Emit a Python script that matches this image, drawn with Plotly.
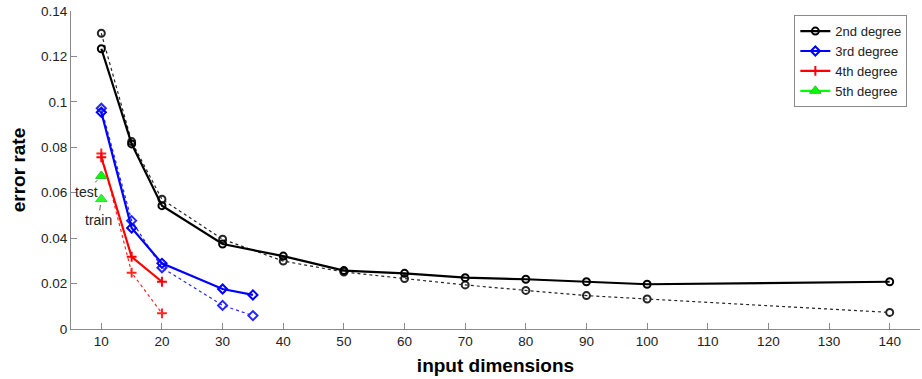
import plotly.graph_objects as go

x2 = [10, 15, 20, 30, 40, 50, 60, 70, 80, 90, 100, 140]
test2 = [0.1234, 0.0815, 0.0543, 0.0374, 0.0321, 0.0257, 0.0245, 0.0226, 0.0219, 0.0208, 0.0197, 0.0208]
train2 = [0.1302, 0.0825, 0.0571, 0.0395, 0.0299, 0.0251, 0.0222, 0.0194, 0.0170, 0.0147, 0.0132, 0.0073]

x3 = [10, 15, 20, 30, 35]
test3 = [0.0954, 0.0445, 0.0289, 0.0176, 0.0150]
train3 = [0.0972, 0.0477, 0.0270, 0.0104, 0.0059]

x4 = [10, 15, 20]
test4 = [0.0756, 0.0318, 0.0208]
train4 = [0.0773, 0.0248, 0.0069]

x5 = [10]
test5 = [0.0674]
train5 = [0.0572]

names = ["2nd degree", "3rd degree", "4th degree", "5th degree"]
colors = ["black", "#0000ff", "#ff0000", "#00ff00"]
symbols = ["circle-open", "diamond-open", "cross-thin-open", "triangle-up"]
sizes = [7, 7, 7, 10]

fig = go.Figure()
series = [(x2, test2, train2), (x3, test3, train3), (x4, test4, train4), (x5, test5, train5)]
for i, (xs, te, tr) in enumerate(series):
    c = colors[i]
    mk = dict(symbol=symbols[i], size=sizes[i], color=c,
              line=dict(color=c if i != 3 else "#33bb33", width=2 if i < 3 else 1))
    fig.add_trace(go.Scatter(x=xs, y=tr, mode="lines+markers", showlegend=False,
                             line=dict(color=c, width=1.2, dash="dot"), marker=mk,
                             opacity=0.85))
    fig.add_trace(go.Scatter(x=xs, y=te, mode="lines+markers", name=names[i],
                             line=dict(color=c, width=2.2), marker=mk))

fig.add_annotation(x=10, y=test5[0], text="test", showarrow=True, arrowhead=0,
                   arrowwidth=0.8, arrowcolor="#333", ax=-15, ay=16, standoff=6,
                   font=dict(size=14, color="#222"))
fig.add_annotation(x=10, y=train5[0], text="train", showarrow=True, arrowhead=0,
                   arrowwidth=0.8, arrowcolor="#333", ax=-3, ay=21, standoff=6,
                   font=dict(size=14, color="#222"))

axis_common = dict(showline=True, linecolor="#8a8a8a", linewidth=1.2, ticks="inside",
                   tickcolor="#8a8a8a", ticklen=6, showgrid=False, zeroline=False,
                   tickfont=dict(size=13.5, color="#222"), mirror=False)

fig.update_layout(
    width=922, height=379, margin=dict(l=71, r=2, t=11, b=50),
    paper_bgcolor="white", plot_bgcolor="white",
    font=dict(family="Liberation Sans, Arial, sans-serif"),
    xaxis=dict(range=[5, 145], tickvals=list(range(10, 141, 10)),
               title=dict(text="<b>input dimensions</b>", font=dict(size=19, color="black"), standoff=10),
               **axis_common),
    yaxis=dict(range=[0, 0.14], tickvals=[0, 0.02, 0.04, 0.06, 0.08, 0.1, 0.12, 0.14],
               ticktext=["0", "0.02", "0.04", "0.06", "0.08", "0.1", "0.12", "0.14"],
               title=dict(text="<b>error rate</b>", font=dict(size=19, color="black"), standoff=10),
               **axis_common),
    legend=dict(x=0.852, y=0.987, xanchor="left", yanchor="top", bgcolor="white",
                bordercolor="#8a8a8a", borderwidth=1, font=dict(size=13, color="#222"),
                tracegroupgap=0, itemwidth=30),
)

fig.write_html("out.html")
